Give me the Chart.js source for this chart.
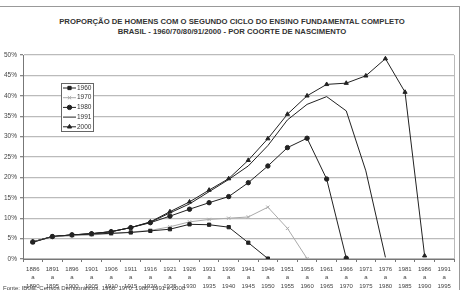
<!DOCTYPE html>
<html>
<head>
<meta charset="utf-8">
<script src="https://cdn.jsdelivr.net/npm/chart.js@4.4.1/dist/chart.umd.min.js"></script>
<style>
  html, body { margin: 0; padding: 0; background: #fff; }
  #wrap { position: relative; width: 464px; height: 290px; overflow: hidden; }
  #frame { position: absolute; left: -2px; top: 6px; width: 461px; height: 300px; border-top: 1px solid #999; border-right: 1px solid #999; }
  #title { position: absolute; left: 0; top: 17px; width: 464px; text-align: center; font: bold 7.7px "Liberation Sans", Arial, sans-serif; color: #333; line-height: 10px; }
  #fonte { position: absolute; left: 3px; top: 285px; font: 6px "Liberation Sans", Arial, sans-serif; color: #444; white-space: nowrap; }
  canvas { position: absolute; left: 0; top: 0; }
</style>
</head>
<body>
<div id="wrap">
  <div id="frame"></div>
  <div id="title">PROPORÇÃO DE HOMENS COM O SEGUNDO CICLO DO ENSINO FUNDAMENTAL COMPLETO<br>BRASIL - 1960/70/80/91/2000 - POR COORTE DE NASCIMENTO</div>
  <canvas id="chart" width="464" height="290"></canvas>
  <div id="fonte">Fonte: IBGE, Censos Demográficos, 1960, 1970, 1980, 1991 e 2000</div>
</div>
<script>
// coortes de nascimento (inicio, fim)
const cohortStart = ["1886","1891","1896","1901","1906","1911","1916","1921","1926","1931","1936","1941","1946","1951","1956","1961","1966","1971","1976","1981","1986","1991"];
const cohortEnd = ["1890","1895","1900","1905","1910","1915","1920","1925","1930","1935","1940","1945","1950","1955","1960","1965","1970","1975","1980","1985","1990","1995"];

// % de homens com segundo ciclo completo, por censo
const censo1960 = [4.1, 5.5, 5.9, 6.1, 6.3, 6.5, 6.9, 7.3, 8.5, 8.4, 7.8, 4.0, 0.1, null, null, null, null, null, null, null, null, null];
const censo1970 = [4.2, 5.4, 5.7, 5.9, 6.2, 6.6, 7.0, 7.9, 9.1, 9.7, 10.0, 10.3, 12.7, 7.5, 0.1, null, null, null, null, null, null, null];
const censo1980 = [4.2, 5.5, 5.9, 6.2, 6.7, 7.7, 8.9, 10.5, 12.2, 13.8, 15.3, 18.7, 22.8, 27.3, 29.6, 19.6, 0.2, null, null, null, null, null];
const censo1991 = [4.2, 5.5, 5.9, 6.2, 6.7, 7.7, 9.0, 11.3, 13.5, 16.5, 19.5, 22.8, 27.8, 34.1, 37.9, 39.8, 36.3, 21.6, 0.4, null, null, null];
const censo2000 = [4.2, 5.5, 5.9, 6.2, 6.7, 7.7, 9.1, 11.6, 14.0, 16.9, 19.7, 24.2, 29.5, 35.5, 40.0, 42.8, 43.1, 44.9, 49.1, 40.9, 0.8, null];

const labels = cohortStart.map((s, i) => [s, "a", cohortEnd[i]]);

function serie(label, data, color, style, radius) {
    return {
        label: label,
        data: data,
        borderColor: color,
        backgroundColor: color,
        borderWidth: 1,
        pointStyle: style,
        pointRadius: radius,
        pointBorderWidth: 1,
        pointHoverRadius: radius,
        tension: 0,
        fill: false,
        spanGaps: false
    };
}

// legenda desenhada dentro da area do grafico
const boxLegend = {
    id: "boxLegend",
    afterDraw(chart) {
        const ctx = chart.ctx;
        const a = chart.chartArea;
        const x0 = a.left + 38, y0 = a.top + 28, w = 32, h = 48;
        ctx.save();
        ctx.fillStyle = "#fff";
        ctx.fillRect(x0, y0, w, h);
        ctx.strokeStyle = "#666";
        ctx.lineWidth = 1;
        ctx.strokeRect(x0 + 0.5, y0 + 0.5, w, h);
        ctx.font = "6.5px 'Liberation Sans', Arial, sans-serif";
        ctx.textBaseline = "middle";
        chart.data.datasets.forEach((ds, i) => {
            const y = y0 + 5 + i * 9.7;
            ctx.strokeStyle = ds.borderColor;
            ctx.fillStyle = ds.backgroundColor;
            ctx.lineWidth = 1;
            ctx.beginPath();
            ctx.moveTo(x0 + 2, y);
            ctx.lineTo(x0 + 15, y);
            ctx.stroke();
            if (ds.pointRadius > 0) {
                Chart.helpers.drawPoint(ctx, {pointStyle: ds.pointStyle, radius: ds.pointRadius, borderWidth: 1, rotation: 0}, x0 + 8.5, y);
            }
            ctx.fillStyle = "#333";
            ctx.fillText(ds.label, x0 + 16, y);
        });
        // borda da area do grafico
        ctx.strokeStyle = "#bbb";
        ctx.beginPath();
        ctx.moveTo(a.right + 0.5, a.top);
        ctx.lineTo(a.right + 0.5, a.bottom);
        ctx.stroke();
        ctx.restore();
    }
};

new Chart(document.getElementById("chart"), {
    type: "line",
    data: {
        labels: labels,
        datasets: [
            serie("1960", censo1960, "#222", "rect", 2.3),
            serie("1970", censo1970, "#aaa", "crossRot", 2.3),
            serie("1980", censo1980, "#222", "circle", 2.2),
            serie("1991", censo1991, "#222", "circle", 0),
            serie("2000", censo2000, "#222", "triangle", 2.4)
        ]
    },
    options: {
        responsive: false,
        animation: false,
        layout: { padding: { top: 55, right: 10, left: 0, bottom: 0 } },
        plugins: {
            legend: { display: false },
            title: { display: false },
            tooltip: { enabled: false }
        },
        scales: {
            x: {
                offset: true,
                grid: { drawOnChartArea: false, drawTicks: true, tickLength: 3, offset: true, color: "#777" },
                border: { color: "#777", width: 1 },
                ticks: {
                    autoSkip: false,
                    maxRotation: 0,
                    padding: 3,
                    color: "#444",
                    font: { family: "'Liberation Sans', Arial, sans-serif", size: 6, lineHeight: 1.4 }
                },
                afterFit(scale) { scale.height = 31; }
            },
            y: {
                min: 0,
                max: 50,
                ticks: {
                    stepSize: 5,
                    padding: 3,
                    color: "#444",
                    font: { family: "'Liberation Sans', Arial, sans-serif", size: 6.5 },
                    callback: v => v + "%"
                },
                grid: { color: "#bbb", lineWidth: 1.3, tickLength: 3, tickColor: "#888" },
                border: { color: "#777", width: 1 },
                afterFit(scale) { scale.width = 23; }
            }
        }
    },
    plugins: [boxLegend]
});
</script>
</body>
</html>
